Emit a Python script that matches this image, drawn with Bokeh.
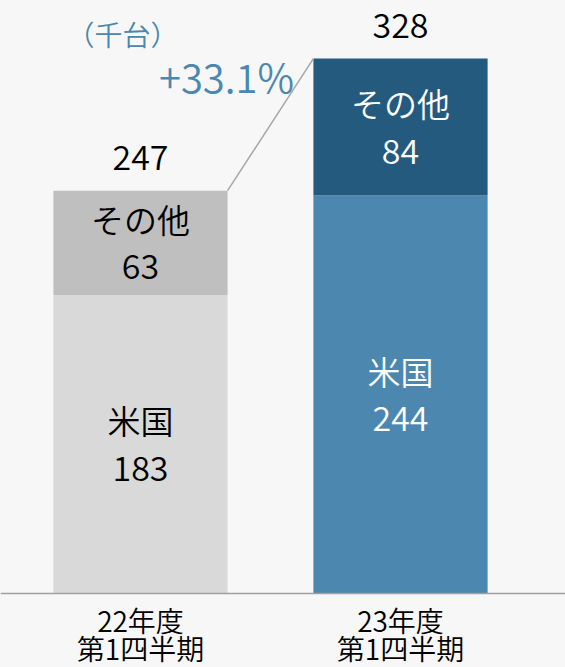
from bokeh.plotting import figure
from bokeh.models import ColumnDataSource, Range1d, Span, Label
from bokeh.core.properties import value
from bokeh.embed import file_html
from bokeh.resources import INLINE

# ---- data ----
period_line1 = ["22年度", "23年度"]
period_line2 = ["第1四半期", "第1四半期"]
us_units = [183, 244]
other_units = [63, 84]
total_units = [247, 328]
segment_names = ["米国", "その他"]
unit_label = "（千台）"
growth_label = "+33.1%"

# ---- styling ----
BG = "#f7f7f7"
FONT = "'Noto Sans CJK JP DemiLight', 'Noto Sans CJK JP Light', 'Noto Sans CJK JP'"
us_colors = ["#d9d9d9", "#4b87af"]
other_colors = ["#bfbfbf", "#245a7e"]
text_colors = ["#000000", "#ffffff"]
BAR_W = 0.67

idx = list(range(len(period_line1)))

p = figure(width=565, height=667, output_backend="svg", toolbar_location=None,
           x_range=Range1d(-0.53846, 1.63462), y_range=Range1d(-45.37, 363.6),
           min_border=0, min_border_left=0, min_border_right=0,
           min_border_top=0, min_border_bottom=0)
p.axis.visible = False
p.grid.visible = False
p.outline_line_color = None
p.background_fill_color = BG
p.border_fill_color = BG

src = ColumnDataSource(dict(
    x=idx, us=us_units, other=other_units, top=total_units,
    us_mid=[u / 2 for u in us_units],
    other_mid=[u + (t - u) / 2 for u, t in zip(us_units, total_units)],
    us_col=us_colors, other_col=other_colors, tcol=text_colors,
    us_name=[segment_names[0]] * len(idx), other_name=[segment_names[1]] * len(idx),
    us_txt=[str(v) for v in us_units], other_txt=[str(v) for v in other_units],
    tot_txt=[str(v) for v in total_units],
    l1=period_line1, l2=period_line2, zero=[0] * len(idx),
))

p.vbar(x="x", width=BAR_W, bottom=0, top="us", fill_color="us_col", line_color=None, source=src)
p.vbar(x="x", width=BAR_W, bottom="us", top="top", fill_color="other_col", line_color=None, source=src)

# connector line between bar tops
p.segment(x0=[idx[0] + BAR_W / 2], y0=[total_units[0]], x1=[idx[1] - BAR_W / 2], y1=[total_units[1]],
          line_color="#a6a6a6", line_width=1.5)

p.add_layout(Span(location=0, dimension="width", line_color="#a0a0a0", line_width=1.5))

common = dict(text_font=value(FONT), text_align="center", text_baseline="middle", source=src)
p.text(x="x", y="us_mid", text="us_name", text_color="tcol", y_offset=-24,
       text_font_size=value("33px"), **common)
p.text(x="x", y="us_mid", text="us_txt", text_color="tcol", y_offset=24,
       text_font_size=value("34px"), **common)
p.text(x="x", y="other_mid", text="other_name", text_color="tcol", y_offset=-24,
       text_font_size=value("33px"), **common)
p.text(x="x", y="other_mid", text="other_txt", text_color="tcol", y_offset=24,
       text_font_size=value("34px"), **common)
p.text(x="x", y="top", text="tot_txt", text_color="#000000", y_offset=-33,
       text_font_size=value("34px"), **common)
p.text(x="x", y="zero", text="l1", text_color="#000000", y_offset=26,
       text_font_size=value("28px"), **common)
p.text(x="x", y="zero", text="l2", text_color="#000000", y_offset=54,
       text_font_size=value("28px"), **common)

p.add_layout(Label(x=226, y=667 - 75, x_units="screen", y_units="screen", text=growth_label,
                   text_font=FONT, text_font_size="40px", text_color="#4b87af",
                   text_align="center", text_baseline="middle"))
p.add_layout(Label(x=122, y=667 - 33, x_units="screen", y_units="screen", text=unit_label,
                   text_font=FONT, text_font_size="28px", text_color="#4b87af",
                   text_align="center", text_baseline="middle"))

html = file_html(p, INLINE)
html = html.replace("</head>", "<style>html,body{background:#f7f7f7;}</style></head>", 1)
open("out.html", "w").write(html)
